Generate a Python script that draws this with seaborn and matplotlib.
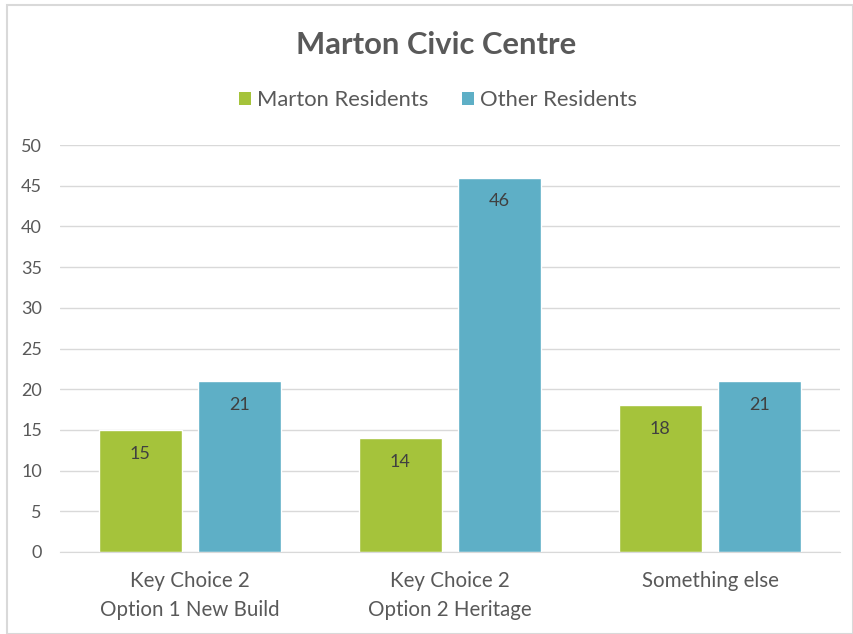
import matplotlib
matplotlib.use("Agg")
import matplotlib.pyplot as plt
import seaborn as sns
import pandas as pd
from matplotlib.patches import Rectangle, Patch

categories = ["Key Choice 2\nOption 1 New Build", "Key Choice 2\nOption 2 Heritage", "Something else"]
series_names = ["Marton Residents", "Other Residents"]
marton_values = [15, 14, 18]
other_values = [21, 46, 21]
yticks = [0, 5, 10, 15, 20, 25, 30, 35, 40, 45, 50]

colors = ["#A5C33B", "#5EAFC6"]
text_color = "#595959"

df = pd.DataFrame({
    "category": categories * 2,
    "series": [series_names[0]] * 3 + [series_names[1]] * 3,
    "value": marton_values + other_values,
})

sns.set_style("white")
plt.rcParams["font.family"] = ["Lato", "DejaVu Sans"]

fig = plt.figure(figsize=(8.54, 6.34), dpi=100)
ax = fig.add_axes([60 / 854, 1 - 552 / 634, 780 / 854, 407 / 634])

sns.barplot(data=df, x="category", y="value", hue="series", palette=colors,
            width=0.765, gap=0.166, ax=ax, legend=False, saturation=1)

ax.set_ylim(0, 50)
ax.set_yticks(yticks)
ax.set_yticklabels([str(t) for t in yticks], fontsize=13, color=text_color)
ax.tick_params(axis="y", length=0, pad=13)
ax.tick_params(axis="x", length=0, pad=14, labelsize=14.8, labelcolor=text_color)
for lbl in ax.get_xticklabels():
    lbl.set_linespacing(1.55)
ax.set_xlabel("")
ax.set_ylabel("")
ax.yaxis.grid(True, color="#D9D9D9", linewidth=1)
ax.set_axisbelow(True)
for s in ["top", "right", "left"]:
    ax.spines[s].set_visible(False)
ax.spines["bottom"].set_color("#D9D9D9")
ax.set_xlim(-0.5, 2.5)

for container in ax.containers:
    for bar in container:
        h = bar.get_height()
        ax.annotate(f"{int(h)}", (bar.get_x() + bar.get_width() / 2, h),
                    xytext=(0, -17), textcoords="offset points",
                    ha="center", va="center", fontsize=13, color="#404040")

fig.text(436 / 854, 1 - 45 / 634, "Marton Civic Centre", ha="center", va="center",
         fontsize=22.3, fontweight="bold", color=text_color)

handles = [Patch(facecolor=c, edgecolor="none") for c in colors]
fig.legend(handles, series_names, loc="center", bbox_to_anchor=(438 / 854, 1 - 100 / 634),
           ncol=2, frameon=False, fontsize=15.8, labelcolor=text_color,
           handlelength=0.55, handleheight=0.55, handletextpad=0.3, columnspacing=1.5)

fig.patches.append(Rectangle((7 / 854, 0), 846 / 854, 1 - 5 / 634,
                             transform=fig.transFigure, fill=False,
                             edgecolor="#D9D9D9", linewidth=1.5))

fig.savefig("out.png", dpi=100)
